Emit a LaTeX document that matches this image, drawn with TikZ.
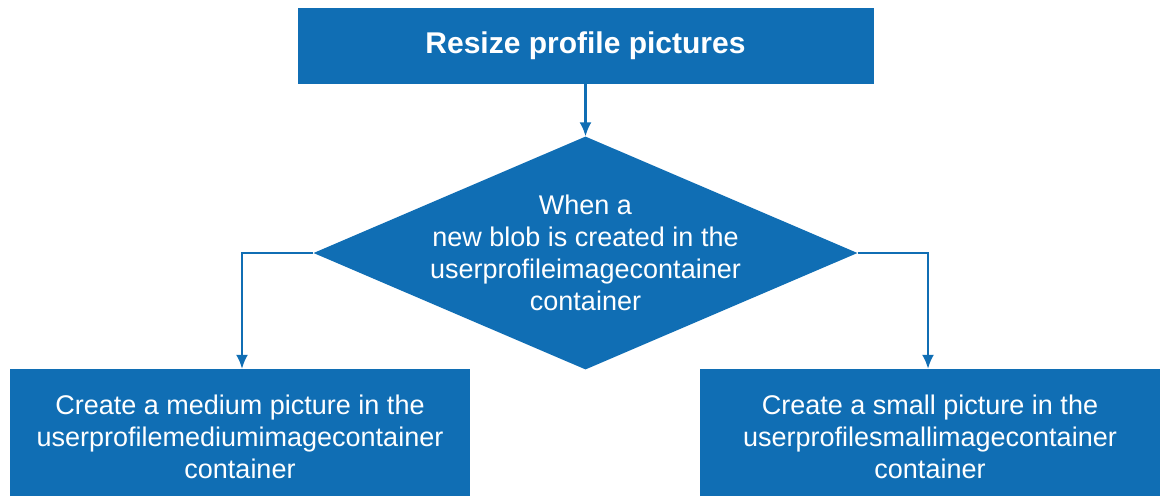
\documentclass[tikz,border=0pt]{standalone}
\usepackage{fontspec}
\setmainfont{Liberation Sans}
\usetikzlibrary{shapes.geometric,arrows.meta}
\definecolor{azblue}{RGB}{16,110,180}
\begin{document}
\begin{tikzpicture}[x=1pt,y=-1pt,
  boxstyle/.style={fill=azblue, draw=none, inner sep=0pt, text=white, align=center},
  bodytext/.style={font=\fontsize{27}{32}\selectfont},
  arr/.style={draw=azblue, line width=2.2pt, -{Latex[length=14pt,width=12pt]}}]
\useasboundingbox (0,0) rectangle (1165,496);
\node[boxstyle, minimum width=576pt, minimum height=76pt, font=\fontsize{30}{34}\bfseries] (top) at (585.5,46) {Resize profile pictures};
\node[diamond, fill=azblue, inner sep=0pt, minimum width=544pt, minimum height=233pt, aspect=2.33] (dec) at (585.5,253) {};
\node[text=white, align=center, bodytext] (dectext) at (585.5,253) {When a\\new blob is created in the\\userprofileimagecontainer\\container};
\node[boxstyle, minimum width=460pt, minimum height=127pt, bodytext] (left) at (240,432.5) {};
\node[text=white, align=center, bodytext] (lefttext) at (240,437) {Create a medium picture in the\\userprofilemediumimagecontainer\\container};
\node[boxstyle, minimum width=460pt, minimum height=127pt, bodytext] (right) at (930,432.5) {};
\node[text=white, align=center, bodytext] (righttext) at (930,437) {Create a small picture in the\\userprofilesmallimagecontainer\\container};
\draw[arr] (top.south) -- (dec.north);
\draw[arr] (dec.west) -| ([xshift=2pt]left.north);
\draw[arr] (dec.east) -| ([xshift=-2pt]right.north);
\end{tikzpicture}
\end{document}
